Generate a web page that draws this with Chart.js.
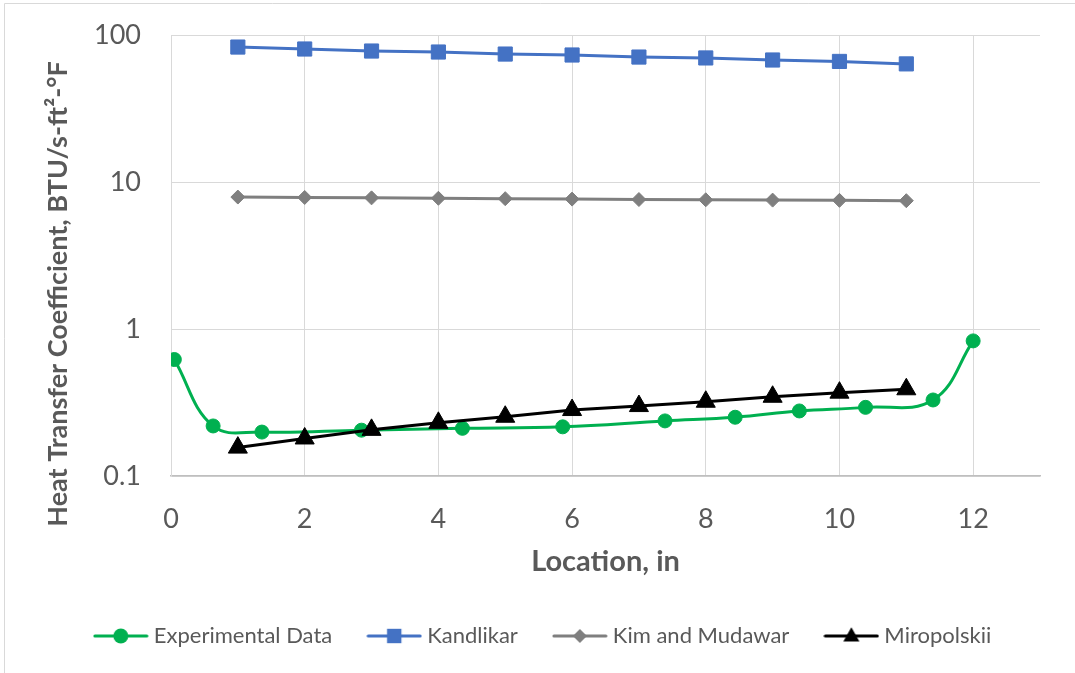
<!DOCTYPE html>
<html>
<head>
<meta charset="utf-8">
<script src="https://cdn.jsdelivr.net/npm/chart.js@4.4.1/dist/chart.umd.min.js"></script>
<style>
  html, body { margin: 0; padding: 0; background: #fff; }
  #wrap { width: 1075px; height: 673px; position: relative; }
</style>
</head>
<body>
<div id="wrap"><canvas id="htcChart"></canvas></div>
<script>
// Experimental data (location in inches, HTC)
const expX = [0.05, 0.63, 1.36, 2.85, 4.36, 5.86, 7.39, 8.44, 9.40, 10.39, 11.40, 12.0];
const expY = [0.62, 0.219, 0.199, 0.205, 0.211, 0.216, 0.237, 0.251, 0.277, 0.293, 0.329, 0.83];

// Correlations evaluated at 1..11 in
const corrX = [1, 2, 3, 4, 5, 6, 7, 8, 9, 10, 11];
const kandlikar = [82.8, 80.3, 77.8, 76.6, 74.2, 73.1, 70.8, 69.8, 67.6, 66.1, 63.6];
const kimMudawar = [7.9, 7.85, 7.8, 7.75, 7.7, 7.65, 7.6, 7.57, 7.53, 7.5, 7.46];
const miropolskii = [0.156, 0.180, 0.206, 0.230, 0.253, 0.281, 0.299, 0.320, 0.346, 0.369, 0.389];

const xTicks = [0, 2, 4, 6, 8, 10, 12];
const yTicks = [0.1, 1, 10, 100];

const FONT = 'Lato, "Open Sans", sans-serif';
const TEXT = '#595959';
const PAD_LEFT = 50;

function pts(xs, ys) {
    return xs.map((x, i) => ({ x: x, y: ys[i] }));
}

// legend icon: short line with the marker in the middle
function legendIcon(color, style, radius) {
    const c = document.createElement('canvas');
    c.width = 56;
    c.height = 24;
    const g = c.getContext('2d');
    g.strokeStyle = color;
    g.lineWidth = 3;
    g.lineCap = 'round';
    g.beginPath();
    g.moveTo(2, 12);
    g.lineTo(54, 12);
    g.stroke();
    g.fillStyle = color;
    g.beginPath();
    if (style === 'circle') g.arc(28, 12, radius, 0, Math.PI * 2);
    else if (style === 'rect') g.rect(28 - radius * 0.9, 12 - radius * 0.9, radius * 1.8, radius * 1.8);
    else if (style === 'rectRot') { g.moveTo(28, 12 - radius); g.lineTo(28 + radius, 12); g.lineTo(28, 12 + radius); g.lineTo(28 - radius, 12); }
    else { g.moveTo(28, 12 - radius * 1.1); g.lineTo(28 + radius, 12 + radius * 0.7); g.lineTo(28 - radius, 12 + radius * 0.7); }
    g.fill();
    return c;
}

const series = [
    { label: 'Experimental Data', color: '#00B050', style: 'circle', r: 7, data: pts(expX, expY), tension: 0.4, order: 1, icon: 7.5 },
    { label: 'Kandlikar', color: '#4472C4', style: 'rect', r: 10, data: pts(corrX, kandlikar), tension: 0, order: 2, icon: 8 },
    { label: 'Kim and Mudawar', color: '#7F7F7F', style: 'rectRot', r: 7, data: pts(corrX, kimMudawar), tension: 0, order: 3, icon: 7 },
    { label: 'Miropolskii', color: '#000000', style: 'triangle', r: 11, data: pts(corrX, miropolskii), tension: 0, order: 0, icon: 8 }
];

const frame = {
    id: 'frame',
    beforeDraw(chart) {
        const ctx = chart.ctx;
        ctx.save();
        ctx.strokeStyle = '#D9D9D9';
        ctx.lineWidth = 1;
        ctx.beginPath();
        ctx.moveTo(4.5, 680);
        ctx.lineTo(4.5, 3.5);
        ctx.lineTo(1080, 3.5);
        ctx.stroke();
        ctx.restore();
    },
    afterDraw(chart) {
        // y axis title, centred a bit below the plot centre like the original
        const ctx = chart.ctx;
        ctx.save();
        ctx.translate(58, 294);
        ctx.rotate(-Math.PI / 2);
        ctx.fillStyle = TEXT;
        ctx.font = 'bold 27px ' + FONT;
        ctx.textAlign = 'center';
        ctx.textBaseline = 'middle';
        ctx.fillText('Heat Transfer Coefficient, BTU/s-ft²-°F', 0, 0);
        ctx.restore();
    }
};

new Chart(document.getElementById('htcChart'), {
    type: 'line',
    data: {
        datasets: series.map(s => ({
            label: s.label,
            data: s.data,
            borderColor: s.color,
            backgroundColor: s.color,
            borderWidth: 3,
            pointStyle: s.style,
            pointRadius: s.r,
            pointHoverRadius: s.r,
            pointBorderWidth: 1,
            pointBackgroundColor: s.color,
            pointBorderColor: s.color,
            tension: s.tension,
            order: s.order,
            fill: false
        }))
    },
    options: {
        responsive: true,
        maintainAspectRatio: false,
        animation: false,
        layout: { padding: { left: PAD_LEFT, right: 35, top: 35, bottom: 16 } },
        plugins: {
            tooltip: { enabled: false },
            legend: {
                position: 'bottom',
                labels: {
                    usePointStyle: true,
                    pointStyleWidth: 44,
                    padding: 40,
                    color: TEXT,
                    font: { family: FONT, size: 22 },
                    generateLabels: chart => series.map((s, i) => ({
                        text: s.label,
                        pointStyle: legendIcon(s.color, s.style, s.icon),
                        fillStyle: s.color,
                        strokeStyle: s.color,
                        lineWidth: 0,
                        fontColor: TEXT,
                        datasetIndex: i,
                        hidden: false
                    }))
                }
            }
        },
        scales: {
            x: {
                type: 'linear',
                min: 0,
                max: 13,
                afterBuildTicks: scale => { scale.ticks = xTicks.map(v => ({ value: v })); },
                afterFit: scale => { scale.height = 109; },
                grid: { color: '#D9D9D9', drawTicks: false },
                border: { color: '#BFBFBF', width: 1.5 },
                ticks: { padding: 27, color: TEXT, font: { family: FONT, size: 27 } },
                title: {
                    display: true,
                    text: 'Location, in',
                    color: TEXT,
                    font: { family: FONT, size: 29, weight: 'bold' },
                    padding: { top: 0, bottom: 6 }
                }
            },
            y: {
                type: 'logarithmic',
                min: 0.1,
                max: 100,
                afterBuildTicks: scale => { scale.ticks = yTicks.map(v => ({ value: v })); },
                afterFit: scale => {
                    scale.width = 171 - PAD_LEFT;
                    scale.paddingTop = 0;
                    scale.paddingBottom = 0;
                },
                grid: { color: '#D9D9D9', drawTicks: false },
                border: { color: '#D9D9D9' },
                ticks: {
                    padding: 30,
                    color: TEXT,
                    font: { family: FONT, size: 27 },
                    callback: v => String(v)
                }
            }
        }
    },
    plugins: [frame]
});
</script>
</body>
</html>
